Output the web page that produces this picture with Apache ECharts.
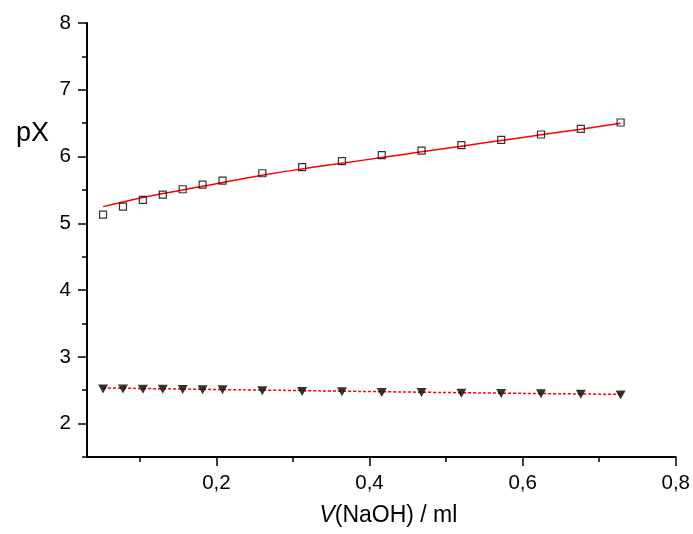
<!DOCTYPE html>
<html>
<head>
<meta charset="utf-8">
<script src="https://cdn.jsdelivr.net/npm/echarts@6/dist/echarts.min.js"></script>
<style>
html,body{margin:0;padding:0;background:#fff;}
#chart{width:693px;height:534px;}
</style>
</head>
<body>
<div id="chart"></div>
<script>
// Volume of NaOH (ml)
var volumes = [0.052, 0.078, 0.104, 0.130, 0.156, 0.182, 0.208, 0.260, 0.312, 0.364, 0.416, 0.468, 0.520, 0.572, 0.624, 0.676, 0.728];
// measured pX, upper series (open squares)
var pxSquares = [5.13, 5.25, 5.35, 5.43, 5.51, 5.58, 5.64, 5.75, 5.84, 5.93, 6.02, 6.09, 6.17, 6.25, 6.33, 6.415, 6.51];
// fitted curve for upper series (solid red)
var fitSquares = [5.25, 5.32, 5.385, 5.445, 5.50, 5.555, 5.61, 5.72, 5.815, 5.90, 5.985, 6.07, 6.155, 6.24, 6.325, 6.41, 6.50];
// measured pX, lower series (filled down triangles)
var pxTriangles = [2.52, 2.52, 2.516, 2.516, 2.512, 2.506, 2.506, 2.491, 2.482, 2.476, 2.467, 2.467, 2.456, 2.452, 2.446, 2.441, 2.43];
// fitted curve for lower series (dashed red)
var fitTriangles = [2.535, 2.53, 2.526, 2.522, 2.518, 2.514, 2.51, 2.502, 2.494, 2.486, 2.478, 2.47, 2.463, 2.456, 2.45, 2.444, 2.438];

// axis ticks
var xMajorTicks = [0.2, 0.4, 0.6, 0.8];
var xMinorTicks = [0.1, 0.3, 0.5, 0.7];
var yMajorTicks = [2, 3, 4, 5, 6, 7, 8];
var yMinorTicks = [1.5, 2.5, 3.5, 4.5, 5.5, 6.5, 7.5];

function pairs(xs, ys) { return xs.map(function (x, i) { return [x, ys[i]]; }); }

var FONT = 'Liberation Sans, Arial, sans-serif';
var XMIN = 0.031, XMAX = 0.8, YMIN = 1.5, YMAX = 8;

var chart = echarts.init(document.getElementById('chart'), null, { renderer: 'canvas' });
chart.setOption({
  animation: false,
  backgroundColor: '#fff',
  title: {
    text: 'pX',
    left: 11,
    top: 115,
    textStyle: { fontFamily: FONT, fontSize: 27, fontWeight: 'normal', color: '#000' }
  },
  grid: { left: 87, right: 15, top: 23, bottom: 77, containLabel: false },
  xAxis: [
    {
      type: 'value', min: XMIN, max: XMAX,
      axisLine: { show: true, onZero: false, lineStyle: { color: '#000', width: 2 } },
      axisTick: { show: true, inside: false, length: 9, lineStyle: { color: '#000', width: 1.5 }, customValues: xMajorTicks },
      axisLabel: {
        show: true, margin: 16, customValues: xMajorTicks,
        fontFamily: FONT, fontSize: 20.5, color: '#000',
        formatter: function (v) { return v.toFixed(1).replace('.', ','); }
      },
      splitLine: { show: false },
      name: '{i|V}(NaOH) / ml',
      nameLocation: 'middle',
      nameGap: 47,
      nameTextStyle: {
        fontFamily: FONT, fontSize: 23, color: '#000', padding: [0, 0, 0, 14],
        rich: { i: { fontFamily: FONT, fontSize: 23, fontStyle: 'italic', color: '#000' } }
      }
    },
    {
      type: 'value', min: XMIN, max: XMAX, position: 'bottom',
      axisLine: { show: false, onZero: false },
      axisTick: { show: true, length: 5, lineStyle: { color: '#000', width: 1.5 }, customValues: xMinorTicks },
      axisLabel: { show: false },
      splitLine: { show: false }
    }
  ],
  yAxis: [
    {
      type: 'value', min: YMIN, max: YMAX,
      axisLine: { show: true, onZero: false, lineStyle: { color: '#000', width: 2 } },
      axisTick: { show: true, length: 9, lineStyle: { color: '#000', width: 1.5 }, customValues: yMajorTicks },
      axisLabel: {
        show: true, margin: 16, customValues: yMajorTicks,
        fontFamily: FONT, fontSize: 20.5, color: '#000',
        formatter: function (v) { return String(v); }
      },
      splitLine: { show: false }
    },
    {
      type: 'value', min: YMIN, max: YMAX, position: 'left',
      axisLine: { show: false, onZero: false },
      axisTick: { show: true, length: 5, lineStyle: { color: '#000', width: 1.5 }, customValues: yMinorTicks },
      axisLabel: { show: false },
      splitLine: { show: false }
    }
  ],
  series: [
    {
      name: 'fit upper', type: 'line', data: pairs(volumes, fitSquares),
      showSymbol: false, symbol: 'none', smooth: true, z: 2,
      lineStyle: { color: '#ff0000', width: 1.5 }
    },
    {
      name: 'fit lower', type: 'line', data: pairs(volumes, fitTriangles),
      showSymbol: false, symbol: 'none', smooth: true, z: 2,
      lineStyle: { color: '#ff0000', width: 1.5, type: [3, 2] }
    },
    {
      name: 'upper', type: 'scatter', data: pairs(volumes, pxSquares),
      symbol: 'rect', symbolSize: 7, z: 3,
      itemStyle: { color: 'rgba(0,0,0,0)', borderColor: '#000', borderWidth: 1.2 }
    },
    {
      name: 'lower', type: 'scatter', data: pairs(volumes, pxTriangles),
      symbol: 'triangle', symbolRotate: 180, symbolSize: [10, 9], z: 3,
      itemStyle: { color: '#000' }
    }
  ]
});
</script>
</body>
</html>
